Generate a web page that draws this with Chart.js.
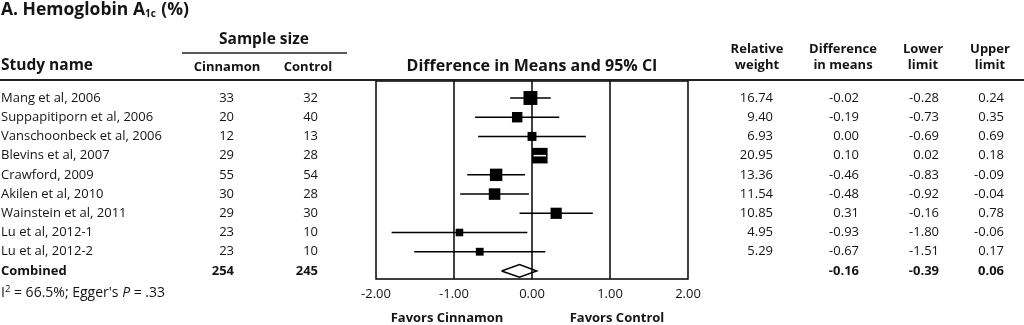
<!DOCTYPE html>
<html>
<head>
<meta charset="utf-8">
<script src="https://cdn.jsdelivr.net/npm/chart.js@4"></script>
<style>
    html, body { margin: 0; padding: 0; background: #fff; }
</style>
</head>
<body>
<canvas id="forestChart" width="1024" height="325"></canvas>
<script>
const studyNames = [
    "Mang et al, 2006",
    "Suppapitiporn et al, 2006",
    "Vanschoonbeck et al, 2006",
    "Blevins et al, 2007",
    "Crawford, 2009",
    "Akilen et al, 2010",
    "Wainstein et al, 2011",
    "Lu et al, 2012-1",
    "Lu et al, 2012-2"
];
const cinnamonN = [33, 20, 12, 29, 55, 30, 29, 23, 23];
const controlN = [32, 40, 13, 28, 54, 28, 30, 10, 10];
const relWeights = [16.74, 9.40, 6.93, 20.95, 13.36, 11.54, 10.85, 4.95, 5.29];
const diffMeans = [-0.02, -0.19, 0.00, 0.10, -0.46, -0.48, 0.31, -0.93, -0.67];
const lowerLimits = [-0.28, -0.73, -0.69, 0.02, -0.83, -0.92, -0.16, -1.80, -1.51];
const upperLimits = [0.24, 0.35, 0.69, 0.18, -0.09, -0.04, 0.78, -0.06, 0.17];

const combinedN = [254, 245];
const combinedEffect = [-0.16, -0.39, 0.06]; // mean, lower, upper

const xTicks = [-2, -1, 0, 1, 2];

const FONT = '"Open Sans", sans-serif';
const INK = "#141414";

// square side grows with sqrt of the weight
const sideOf = w => 3.4 * Math.sqrt(w);

const combinedRow = studyNames.length;

const datasets = [];

datasets.push({
    type: "scatter",
    data: diffMeans.map((m, i) => ({ x: m, y: i })),
    pointStyle: "rect",
    pointRadius: relWeights.map(w => sideOf(w) / Math.SQRT2),
    pointHoverRadius: relWeights.map(w => sideOf(w) / Math.SQRT2),
    backgroundColor: "#000",
    borderColor: "#000",
    borderWidth: 0,
    order: 1
});

studyNames.forEach((name, i) => {
    // whisker hidden inside its square is drawn white, like the original
    const inside = (upperLimits[i] - lowerLimits[i]) * 78 < sideOf(relWeights[i]);
    datasets.push({
        type: "line",
        data: [{ x: lowerLimits[i], y: i }, { x: upperLimits[i], y: i }],
        borderColor: inside ? "#fff" : "#000",
        borderWidth: 1.5,
        pointRadius: 0,
        order: inside ? 0 : 2
    });
});

const dH = 0.33;
datasets.push({
    type: "line",
    data: [
        { x: combinedEffect[1], y: combinedRow },
        { x: combinedEffect[0], y: combinedRow - dH },
        { x: combinedEffect[2], y: combinedRow },
        { x: combinedEffect[0], y: combinedRow + dH },
        { x: combinedEffect[1], y: combinedRow }
    ],
    borderColor: "#000",
    borderWidth: 1.5,
    backgroundColor: "#fff",
    fill: true,
    pointRadius: 0,
    tension: 0,
    order: 1
});

function drawText(ctx, s, x, y, align, font) {
    ctx.font = font;
    ctx.textAlign = align;
    ctx.fillText(s, x, y);
}

const forestDecor = {
    id: "forestDecor",
    beforeDatasetsDraw(chart) {
        const { ctx, chartArea: a, scales: { x } } = chart;
        ctx.save();
        ctx.strokeStyle = "#000";
        ctx.lineWidth = 1.5;
        xTicks.slice(1, -1).forEach(v => {
            const px = x.getPixelForValue(v);
            ctx.beginPath();
            ctx.moveTo(px, a.top);
            ctx.lineTo(px, a.bottom);
            ctx.stroke();
        });
        ctx.strokeRect(a.left, a.top, a.right - a.left, a.bottom - a.top);
        ctx.restore();
    },
    afterDraw(chart) {
        const { ctx, chartArea: a, scales: { x, y } } = chart;
        const reg = `13px ${FONT}`;
        const bold = `bold 13px ${FONT}`;
        const head = `bold 15.5px ${FONT}`;

        ctx.save();
        ctx.fillStyle = INK;
        ctx.textBaseline = "middle";

        // title with subscript
        ctx.font = `bold 17.5px ${FONT}`;
        ctx.textAlign = "left";
        let tx = 1;
        ctx.fillText("A. Hemoglobin A", tx, 10);
        tx += ctx.measureText("A. Hemoglobin A").width;
        ctx.font = `bold 10px ${FONT}`;
        ctx.fillText("1c", tx, 14);
        tx += ctx.measureText("1c").width + 1;
        ctx.font = `bold 17.5px ${FONT}`;
        ctx.fillText(" (%)", tx, 10);

        // header rules
        ctx.strokeStyle = "#222";
        ctx.lineWidth = 2;
        ctx.beginPath();
        ctx.moveTo(0, 80);
        ctx.lineTo(1024, 80);
        ctx.stroke();
        ctx.lineWidth = 1.5;
        ctx.beginPath();
        ctx.moveTo(182, 53);
        ctx.lineTo(347, 53);
        ctx.stroke();

        // headers
        drawText(ctx, "Sample size", 264, 40, "center", head);
        drawText(ctx, "Study name", 1, 66, "left", head);
        drawText(ctx, "Cinnamon", 227, 67, "center", bold);
        drawText(ctx, "Control", 308, 67, "center", bold);
        drawText(ctx, "Difference in Means and 95% CI", (a.left + a.right) / 2, 66, "center", `bold 16px ${FONT}`);
        [["Relative", "weight", 757], ["Difference", "in means", 843],
         ["Lower", "limit", 923], ["Upper", "limit", 990]].forEach(([l1, l2, cx]) => {
            drawText(ctx, l1, cx, 49, "center", bold);
            drawText(ctx, l2, cx, 65, "center", bold);
        });

        // study rows
        studyNames.forEach((name, i) => {
            const py = y.getPixelForValue(i);
            drawText(ctx, name, 1, py, "left", reg);
            drawText(ctx, String(cinnamonN[i]), 234, py, "right", reg);
            drawText(ctx, String(controlN[i]), 318, py, "right", reg);
            drawText(ctx, relWeights[i].toFixed(2), 773, py, "right", reg);
            drawText(ctx, diffMeans[i].toFixed(2), 859, py, "right", reg);
            drawText(ctx, lowerLimits[i].toFixed(2), 939, py, "right", reg);
            drawText(ctx, upperLimits[i].toFixed(2), 1004, py, "right", reg);
        });

        const cy = y.getPixelForValue(combinedRow);
        drawText(ctx, "Combined", 1, cy, "left", bold);
        drawText(ctx, String(combinedN[0]), 234, cy, "right", bold);
        drawText(ctx, String(combinedN[1]), 318, cy, "right", bold);
        drawText(ctx, combinedEffect[0].toFixed(2), 859, cy, "right", bold);
        drawText(ctx, combinedEffect[1].toFixed(2), 939, cy, "right", bold);
        drawText(ctx, combinedEffect[2].toFixed(2), 1004, cy, "right", bold);

        // x tick labels
        xTicks.forEach(v => {
            drawText(ctx, v.toFixed(2), x.getPixelForValue(v), 294, "center", reg);
        });

        // footnote
        const foot = `14px ${FONT}`;
        ctx.textAlign = "left";
        ctx.font = foot;
        let fx = 1;
        const fy = 293;
        ctx.fillText("I", fx, fy);
        fx += ctx.measureText("I").width;
        ctx.font = `9.5px ${FONT}`;
        ctx.fillText("2", fx, fy - 4);
        fx += ctx.measureText("2").width;
        ctx.font = foot;
        ctx.fillText(" = 66.5%; Egger's ", fx, fy);
        fx += ctx.measureText(" = 66.5%; Egger's ").width;
        ctx.font = `italic 14px ${FONT}`;
        ctx.fillText("P", fx, fy);
        fx += ctx.measureText("P").width;
        ctx.font = foot;
        ctx.fillText(" = .33", fx, fy);

        drawText(ctx, "Favors Cinnamon", 447, 318, "center", bold);
        drawText(ctx, "Favors Control", 617, 318, "center", bold);

        ctx.restore();
    }
};

const ctx = document.getElementById("forestChart").getContext("2d");

new Chart(ctx, {
    type: "scatter",
    data: { datasets: datasets },
    options: {
        responsive: false,
        animation: false,
        layout: {
            padding: { left: 376, right: 336, top: 81, bottom: 46 }
        },
        scales: {
            x: { type: "linear", min: -2, max: 2, display: false },
            y: { type: "linear", min: -0.885, max: 9.42, reverse: true, display: false }
        },
        plugins: {
            legend: { display: false },
            tooltip: { enabled: false }
        }
    },
    plugins: [forestDecor]
});
</script>
</body>
</html>
